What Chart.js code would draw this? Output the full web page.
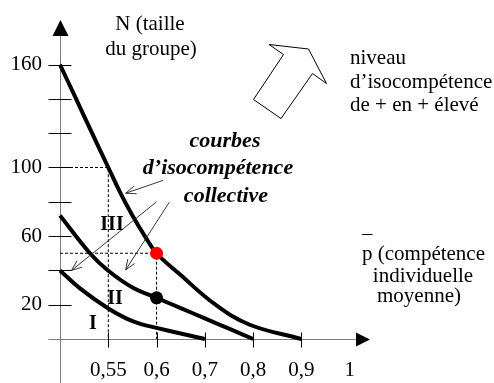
<!DOCTYPE html>
<html lang="fr">
<head>
<meta charset="utf-8">
<title>Courbes d'isocompétence collective</title>
<script src="https://cdn.jsdelivr.net/npm/chart.js@4.4.1/dist/chart.umd.min.js"></script>
<style>
  html, body { margin: 0; padding: 0; background: #ffffff; }
  #wrap { width: 494px; height: 383px; }
  canvas { display: block; }
</style>
</head>
<body>
<div id="wrap"><canvas id="chart" width="494" height="383"></canvas></div>
<script>
// ---- axis graduations -------------------------------------------------
// the p axis is graduated at equal spacing, whatever the step between values
const pGraduation = [0.5, 0.55, 0.6, 0.7, 0.8, 0.9, 1];
const pTicks      = [0.55, 0.6, 0.7, 0.8, 0.9, 1];   // labelled values
const pMarked     = [0.55, 0.6, 0.7, 0.8, 0.9];      // values with a tick mark
const nTicks      = [20, 40, 60, 80, 100, 120, 140, 160];
const nLabelled   = [20, 60, 100, 160];

// ---- iso-competence curves: mean individual competence p, group size N ----
const curveIIIp = [0.5, 0.515, 0.532, 0.55, 0.5625, 0.575, 0.5875, 0.6, 0.647, 0.722, 0.793, 0.9];
const curveIIIn = [160, 142, 121.5, 100, 85.2, 72, 60.3, 50, 38, 20, 8.3, 0];
const curveIIp  = [0.5, 0.531, 0.55, 0.576, 0.6, 0.65, 0.7, 0.75, 0.8];
const curveIIn  = [72, 50, 39.8, 29.7, 24, 18, 12, 6, 0];
const curveIp   = [0.5, 0.521, 0.55, 0.569, 0.584, 0.6, 0.65, 0.7];
const curveIn   = [40, 29.4, 17.8, 11.9, 8.7, 6.5, 3.2, 0];

// ---- highlighted groups and reading guides ----
const redGroup   = { p: 0.6, n: 50 };
const blackGroup = { p: 0.6, n: 24 };
const guideA     = { p: 0.55, n: 100 };

// ---- pointers from the caption to the curves (tail -> head, in p / N) ----
const pointerTailP = [0.6136, 0.6, 0.626];
const pointerTailN = [92.5, 80, 79.6];
const pointerHeadP = [0.568, 0.512, 0.568];
const pointerHeadN = [85, 40, 40.3];

// ---- scale with equally spaced graduations (piecewise linear) ----
class GraduatedScale extends Chart.LinearScale {
  static id = 'graduated';
  static defaults = {};
  _toIndex(v) {
    const b = pGraduation, n = b.length - 1;
    if (v <= b[0]) return (v - b[0]) / (b[1] - b[0]);
    for (let i = 0; i < n; i++) {
      if (v <= b[i + 1]) return i + (v - b[i]) / (b[i + 1] - b[i]);
    }
    return n + (v - b[n]) / (b[n] - b[n - 1]);
  }
  _fromIndex(f) {
    const b = pGraduation, n = b.length - 1;
    if (f <= 0) return b[0] + f * (b[1] - b[0]);
    if (f >= n) return b[n] + (f - n) * (b[n] - b[n - 1]);
    const i = Math.floor(f);
    return b[i] + (f - i) * (b[i + 1] - b[i]);
  }
  buildTicks() {
    return pTicks.map(v => ({ value: v }));
  }
  getPixelForValue(value) {
    const a = this._toIndex(this.min), z = this._toIndex(this.max);
    return this.getPixelForDecimal((this._toIndex(value) - a) / (z - a));
  }
  getValueForPixel(pixel) {
    const a = this._toIndex(this.min), z = this._toIndex(this.max);
    return this._fromIndex(a + this.getDecimalForPixel(pixel) * (z - a));
  }
}
Chart.register(GraduatedScale);

const SERIF = '"Liberation Serif", "Times New Roman", serif';
Chart.defaults.font.family = SERIF;
Chart.defaults.color = '#000000';

const toXY = (ps, ns) => ps.map((p, i) => ({ x: p, y: ns[i] }));

function arrowHead(ctx, x1, y1, x2, y2, len, spread) {
  const a = Math.atan2(y2 - y1, x2 - x1);
  ctx.moveTo(x2 - len * Math.cos(a - spread), y2 - len * Math.sin(a - spread));
  ctx.lineTo(x2, y2);
  ctx.lineTo(x2 - len * Math.cos(a + spread), y2 - len * Math.sin(a + spread));
}

const decorations = {
  id: 'decorations',
  beforeDatasetsDraw(chart) {
    const { ctx, scales: { x, y } } = chart;
    const ax = Math.round(x.getPixelForValue(pGraduation[0])) + 0.5;
    const ay = Math.round(y.getPixelForValue(0)) + 0.5;
    ctx.save();
    ctx.strokeStyle = '#7d7d7d';
    ctx.lineWidth = 1;
    ctx.beginPath();
    ctx.moveTo(ax - 12, ay);
    ctx.lineTo(x.right - 12, ay);
    ctx.moveTo(ax, chart.height);
    ctx.lineTo(ax, y.top + 15);
    ctx.stroke();
    ctx.restore();
  },
  afterDatasetsDraw(chart) {
    const { ctx, scales: { x, y } } = chart;
    const ax = Math.round(x.getPixelForValue(pGraduation[0])) + 0.5;
    const ay = Math.round(y.getPixelForValue(0)) + 0.5;
    ctx.save();

    // axis arrowheads
    ctx.fillStyle = '#000';
    ctx.beginPath();
    ctx.moveTo(x.right, ay);
    ctx.lineTo(x.right - 14, ay - 7);
    ctx.lineTo(x.right - 14, ay + 7);
    ctx.closePath();
    ctx.moveTo(ax, y.top);
    ctx.lineTo(ax - 8, y.top + 16);
    ctx.lineTo(ax + 8, y.top + 16);
    ctx.closePath();
    ctx.fill();

    // tick marks crossing the axes
    ctx.strokeStyle = '#000';
    ctx.lineWidth = 1;
    ctx.beginPath();
    nTicks.forEach(v => {
      const py = Math.round(y.getPixelForValue(v)) + 0.5;
      ctx.moveTo(ax - 12, py);
      ctx.lineTo(ax + 11, py);
    });
    pMarked.forEach(v => {
      const px = Math.round(x.getPixelForValue(v)) + 0.5;
      ctx.moveTo(px, ay - 7);
      ctx.lineTo(px, ay + 8);
    });
    ctx.stroke();

    // pointers from the caption to the curves
    ctx.strokeStyle = '#222';
    ctx.lineWidth = 0.9;
    ctx.beginPath();
    pointerTailP.forEach((p, i) => {
      const x1 = x.getPixelForValue(p), y1 = y.getPixelForValue(pointerTailN[i]);
      const x2 = x.getPixelForValue(pointerHeadP[i]), y2 = y.getPixelForValue(pointerHeadN[i]);
      ctx.moveTo(x1, y1);
      ctx.lineTo(x2, y2);
      arrowHead(ctx, x1, y1, x2, y2, 11, 0.38);
    });
    ctx.stroke();

    // hollow arrow: higher and higher iso-competence
    ctx.strokeStyle = '#000';
    ctx.lineWidth = 1;
    ctx.lineJoin = 'miter';
    ctx.beginPath();
    ctx.moveTo(269, 44.5);
    ctx.lineTo(308.5, 49);
    ctx.lineTo(326.5, 83.5);
    ctx.lineTo(312.5, 73.5);
    ctx.lineTo(281, 118.5);
    ctx.lineTo(253.5, 99.5);
    ctx.lineTo(283.5, 54.5);
    ctx.closePath();
    ctx.stroke();

    // texts
    ctx.fillStyle = '#000';
    ctx.textBaseline = 'alphabetic';
    ctx.font = '21px ' + SERIF;
    ctx.textAlign = 'center';
    ctx.fillText('N (taille', 150, 30);
    ctx.fillText('du groupe)', 151, 55);

    ctx.textAlign = 'left';
    ctx.fillText('niveau', 350, 64);
    ctx.fillText('d\u2019isocompétence', 350, 88);
    ctx.fillText('de + en + élevé', 350, 111);

    ctx.fillText('p (compétence', 362, 260);
    const pw = ctx.measureText('p').width;
    ctx.fillRect(362, 234, pw, 1);
    ctx.textAlign = 'center';
    ctx.fillText('individuelle', 423, 282);
    ctx.fillText('moyenne)', 419, 302);

    ctx.font = 'italic bold 22px ' + SERIF;
    ctx.fillText('courbes', 225, 147);
    ctx.fillText('d\u2019isocompétence', 218, 174);
    ctx.fillText('collective', 226, 202);

    ctx.font = 'bold 20px ' + SERIF;
    ctx.fillText('III', 112, 230);
    ctx.fillText('II', 115, 304);
    ctx.fillText('I', 93, 329);

    ctx.restore();
  }
};

const curveStyle = {
  borderColor: '#000',
  borderWidth: 4,
  pointRadius: 0,
  fill: false,
  tension: 0.4,
  clip: false,
  order: 1
};
const guideStyle = {
  borderColor: '#000',
  borderWidth: 1,
  borderDash: [3, 2],
  pointRadius: 0,
  fill: false,
  tension: 0,
  clip: false,
  order: 2
};

new Chart(document.getElementById('chart'), {
  type: 'line',
  data: {
    datasets: [
      { label: 'groupe rouge', data: [{ x: redGroup.p, y: redGroup.n }], showLine: false,
        pointRadius: 6.5, pointBackgroundColor: '#ff0000', pointBorderWidth: 0, clip: false, order: 0 },
      { label: 'groupe noir', data: [{ x: blackGroup.p, y: blackGroup.n }], showLine: false,
        pointRadius: 6.5, pointBackgroundColor: '#000000', pointBorderWidth: 0, clip: false, order: 0 },
      Object.assign({ label: 'III', data: toXY(curveIIIp, curveIIIn) }, curveStyle),
      Object.assign({ label: 'II', data: toXY(curveIIp, curveIIn) }, curveStyle),
      Object.assign({ label: 'I', data: toXY(curveIp, curveIn) }, curveStyle),
      Object.assign({ label: 'repère 100', data: [
        { x: pGraduation[0], y: guideA.n }, { x: guideA.p, y: guideA.n }, { x: guideA.p, y: 0 }] }, guideStyle),
      Object.assign({ label: 'repère rouge', data: [
        { x: pGraduation[0], y: redGroup.n }, { x: redGroup.p, y: redGroup.n }, { x: redGroup.p, y: 0 }] }, guideStyle)
    ]
  },
  options: {
    responsive: false,
    devicePixelRatio: 1,
    animation: false,
    events: [],
    layout: { padding: { top: 20, right: 124, left: 0, bottom: 0 } },
    plugins: { legend: { display: false }, tooltip: { enabled: false } },
    scales: {
      x: {
        type: 'graduated',
        position: 'bottom',
        min: 0.5,
        max: 1.042,
        grid: { display: false, drawTicks: false },
        border: { display: false },
        ticks: {
          autoSkip: false, maxRotation: 0, minRotation: 0, padding: 19,
          font: { size: 21, family: SERIF }, color: '#000',
          callback: v => String(v).replace('.', ',')
        },
        afterFit: s => { s.height = 44; s.paddingLeft = 0; s.paddingRight = 0; }
      },
      y: {
        type: 'linear',
        position: 'left',
        min: 0,
        max: 186,
        grid: { display: false, drawTicks: false },
        border: { display: false },
        afterBuildTicks: s => { s.ticks = nTicks.map(v => ({ value: v })); },
        ticks: {
          padding: 18,
          font: { size: 21, family: SERIF }, color: '#000',
          callback: v => (nLabelled.includes(v) ? String(v) : '')
        },
        afterFit: s => { s.width = 60; s.paddingTop = 0; s.paddingBottom = 0; }
      }
    }
  },
  plugins: [decorations]
});
</script>
</body>
</html>
